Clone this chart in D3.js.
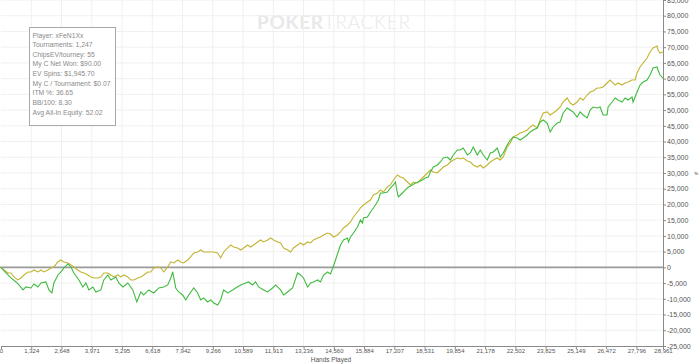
<!DOCTYPE html>
<html>
<head>
<meta charset="utf-8">
<script src="https://cdn.jsdelivr.net/npm/d3@7"></script>
<style>
    body { margin: 0; background: #fff; }
    svg { display: block; }
</style>
</head>
<body>
<div id="content"></div>
<script>
// [hands, chips]
var netWon = [[0,0],[218,-1780],[437,-3370],[655,-4640],[786,-5590],[961,-7180],[1092,-6230],[1310,-6550],[1441,-5270],[1616,-6230],[1747,-4960],[1966,-4640],[2097,-7180],[2228,-8130],[2315,-4960],[2490,-2420],[2621,-1460],[2752,-190],[2927,1080],[3058,130],[3189,-1780],[3407,-4000],[3582,-6230],[3713,-4960],[3844,-7180],[4019,-6230],[4150,-7820],[4368,-7180],[4499,-4000],[4674,-2420],[4805,-4000],[5023,-3050],[5154,-4960],[5329,-6230],[5548,-4960],[5766,-7180],[5941,-10990],[6115,-7820],[6246,-8770],[6465,-7180],[6683,-8130],[6902,-6550],[7120,-6230],[7295,-5590],[7426,-3370],[7513,-1460],[7644,-6550],[7775,-7820],[7950,-8770],[8081,-10360],[8212,-8770],[8430,-6550],[8605,-8130],[8736,-10360],[8867,-9720],[9042,-10990],[9173,-10360],[9304,-11310],[9479,-11950],[9610,-10360],[9741,-7180],[9916,-8130],[10134,-7180],[10265,-6550],[10484,-5590],[10702,-4960],[10833,-4640],[11008,-5590],[11139,-4640],[11270,-6230],[11488,-7180],[11663,-7820],[11881,-6550],[12012,-5590],[12230,-7180],[12362,-8770],[12536,-7820],[12755,-6550],[12973,-1780],[13104,-2420],[13235,-3370],[13410,-6230],[13541,-4960],[13672,-4640],[13847,-4000],[13978,-4640],[14109,-2420],[14284,-1460],[14415,-2100],[14546,440],[14721,4260],[14852,7120],[14983,8710],[15158,9340],[15202,8070],[15289,9660],[15420,10930],[15594,12840],[15725,15060],[15813,14110],[15856,15700],[16031,16020],[16162,17610],[16293,18880],[16380,19830],[16511,21420],[16599,23640],[16730,23640],[16905,23960],[17036,25230],[17167,26190],[17254,27140],[17342,23640],[17385,22370],[17560,23640],[17691,24600],[17822,25550],[17997,26190],[18128,26820],[18259,27140],[18434,27780],[18565,28410],[18696,28730],[18783,30320],[18914,31910],[19089,32540],[19220,33500],[19351,34770],[19526,35090],[19657,34130],[19788,35720],[19963,37310],[20094,37310],[20225,37950],[20400,35720],[20531,36360],[20662,38260],[20837,35720],[20968,37310],[21099,35720],[21274,34130],[21405,36360],[21536,36680],[21710,37950],[21841,35090],[21972,36360],[22147,38900],[22278,40490],[22409,41440],[22584,41130],[22715,40490],[22846,41130],[23021,42080],[23152,43040],[23283,43670],[23457,44310],[23588,46220],[23719,46850],[23894,45900],[24025,43040],[24156,44630],[24331,45900],[24462,46220],[24593,49080],[24768,50670],[24899,50030],[25030,49400],[25205,47810],[25336,49400],[25467,48440],[25642,47490],[25773,50030],[25904,50980],[26079,50670],[26210,50980],[26341,48440],[26515,48440],[26559,50980],[26734,52570],[26865,53840],[26996,53200],[27171,52570],[27302,53840],[27433,53200],[27607,54150],[27651,52570],[27826,55750],[27957,57970],[28088,58920],[28263,59560],[28394,61150],[28525,63370],[28700,63690],[28743,62740],[28830,61150],[28961,60190]];

var evWon = [[0,0],[131,-830],[306,-1780],[437,-1780],[568,-3050],[743,-4000],[874,-3370],[1005,-2420],[1179,-1460],[1310,-1460],[1441,-830],[1616,-1460],[1747,-830],[1878,-1460],[2053,-830],[2184,-190],[2315,130],[2490,1720],[2621,2350],[2752,1720],[2927,1400],[3058,760],[3189,130],[3363,-830],[3494,-1460],[3626,-1780],[3800,-2420],[3931,-3050],[4062,-3370],[4237,-3370],[4368,-3050],[4499,-1780],[4674,-1780],[4805,-2420],[4936,-3050],[5111,-2420],[5242,-3050],[5373,-2420],[5548,-3050],[5679,-4000],[5810,-4000],[5984,-3370],[6115,-3050],[6246,-2420],[6421,-1460],[6552,-1460],[6683,-190],[6858,130],[6989,-190],[7120,-1460],[7295,130],[7426,1720],[7557,1400],[7732,2350],[7863,1720],[7994,1400],[8168,2350],[8299,3310],[8430,4580],[8605,4890],[8736,5530],[8867,4890],[9042,4890],[9173,4890],[9304,4890],[9479,4580],[9610,2990],[9741,4890],[9916,6170],[10047,7120],[10178,6480],[10353,6170],[10484,5530],[10615,6170],[10790,7120],[10921,6480],[11052,7120],[11226,8070],[11357,8710],[11488,8070],[11663,8710],[11794,9340],[11925,8710],[12100,8070],[12231,7750],[12362,6170],[12536,5530],[12668,4890],[12799,6170],[12973,7120],[13104,7750],[13235,7120],[13410,8070],[13541,7750],[13672,8710],[13847,9340],[13978,9660],[14109,10300],[14284,10930],[14415,10610],[14546,9660],[14721,10300],[14852,11250],[14983,12520],[15158,13470],[15289,14430],[15420,16020],[15594,17610],[15725,18880],[15856,19830],[16031,20780],[16162,21420],[16293,23010],[16468,23640],[16599,24600],[16730,23960],[16905,25550],[17036,26190],[17167,27780],[17342,29360],[17473,28730],[17604,28410],[17779,27140],[17910,26190],[18041,27140],[18216,26820],[18347,27780],[18478,28730],[18652,30000],[18783,30950],[18914,30320],[19089,30000],[19220,30950],[19351,31910],[19526,32540],[19657,33500],[19788,34130],[19963,34770],[20094,34450],[20225,34770],[20400,33820],[20531,33500],[20662,32540],[20837,31910],[20968,32540],[21099,31590],[21274,32540],[21405,33500],[21536,34130],[21710,34770],[21841,34130],[21972,35090],[22147,38260],[22278,39530],[22409,41440],[22584,42080],[22715,42710],[22846,43040],[23021,43670],[23152,44630],[23283,45260],[23457,44310],[23588,46850],[23719,49080],[23894,49400],[24025,48440],[24156,49080],[24331,50030],[24462,50980],[24593,52570],[24768,53840],[24899,52250],[25030,51610],[25205,52570],[25336,53840],[25467,53200],[25642,54790],[25773,55750],[25904,56070],[26079,57020],[26210,57020],[26341,57340],[26515,58610],[26646,59560],[26734,58920],[26865,57970],[26996,58610],[27171,57970],[27302,58610],[27433,58920],[27607,59560],[27738,59560],[27826,61790],[27957,63690],[28088,64960],[28263,66550],[28394,68460],[28525,69730],[28700,70360],[28743,69100],[28830,68140],[28961,68460]];

var handTicks = [0, 1324, 2648, 3971, 5295, 6618, 7942, 9266, 10589, 11913, 13236, 14560,
    15884, 17207, 18531, 19854, 21178, 22502, 23825, 25149, 26472, 27796, 28961];
var chipTicks = d3.range(-25000, 85001, 5000);

var stats = [
    "Player: xFeN1Xx",
    "Tournaments: 1,247",
    "ChipsEV/tourney: 55",
    "My C Net Won: $90.00",
    "EV Spins: $1,945.70",
    "My C / Tournament: $0.07",
    "ITM %: 36.65",
    "BB/100: 8.30",
    "Avg All-In Equity: 52.02"
];

var totalW = 700, totalH = 364;
var plotLeft = 1, plotRight = 663, plotTop = 0, plotBottom = 346;

var svg = d3.select('#content').append('svg')
    .attr('width', totalW)
    .attr('height', totalH);

var x = d3.scaleLinear().domain([0, 28961]).range([plotLeft, plotRight]);
var y = d3.scaleLinear().domain([-25000, 85000]).range([plotBottom, plotTop]);

var fmt = d3.format(',');
var numFmt = function (d) { return fmt(d).replace('\u2212', '-'); };

// watermark
var wm = svg.append('text')
    .attr('x', 257)
    .attr('y', 29)
    .attr('textLength', 153)
    .style('font-family', 'Lato, "Open Sans", sans-serif')
    .style('font-size', '19px')
    .style('fill', '#e8e8e8');
wm.append('tspan').style('font-weight', 'bold').text('POKER');
wm.append('tspan').style('font-weight', '300').text('TRACKER');

// grid
var grid = svg.append('g').attr('class', 'grid');
grid.selectAll('line.v')
    .data(handTicks.slice(1, -1))
    .enter().append('line')
    .attr('x1', function (d) { return x(d); })
    .attr('x2', function (d) { return x(d); })
    .attr('y1', plotTop)
    .attr('y2', plotBottom)
    .attr('stroke', '#f0f0f0')
    .attr('stroke-width', 1);
grid.selectAll('line.h')
    .data(chipTicks.filter(function (d) { return d !== 0 && d !== -25000; }))
    .enter().append('line')
    .attr('x1', plotLeft)
    .attr('x2', plotRight)
    .attr('y1', function (d) { return y(d); })
    .attr('y2', function (d) { return y(d); })
    .attr('stroke', '#f0f0f0')
    .attr('stroke-width', 1);

// zero line
svg.append('line')
    .attr('x1', 0)
    .attr('x2', plotRight)
    .attr('y1', y(0))
    .attr('y2', y(0))
    .attr('stroke', '#9a9a9a')
    .attr('stroke-width', 1.6);

// lines
var line = d3.line()
    .x(function (d) { return x(d[0]); })
    .y(function (d) { return y(d[1]); });

svg.append('path')
    .datum(evWon)
    .attr('d', line)
    .attr('fill', 'none')
    .attr('stroke', '#c2b431')
    .attr('stroke-width', 1.1);

svg.append('path')
    .datum(netWon)
    .attr('d', line)
    .attr('fill', 'none')
    .attr('stroke', '#3fbb3f')
    .attr('stroke-width', 1.1);

// right axis
var yAxis = d3.axisRight(y).tickValues(chipTicks).tickSize(3).tickPadding(1).tickFormat(numFmt);
var ya = svg.append('g')
    .attr('transform', 'translate(' + plotRight + ',0)')
    .call(yAxis);
ya.select('.domain').attr('stroke', '#8a8a8a');
ya.selectAll('.tick line').attr('stroke', '#8a8a8a');
ya.selectAll('text')
    .style('font-family', '"Liberation Sans", Arial, sans-serif')
    .style('font-size', '7px')
    .style('fill', '#555');

// bottom axis
var xAxis = d3.axisBottom(x).tickValues(handTicks).tickSize(3).tickPadding(0).tickFormat(numFmt);
var xa = svg.append('g')
    .attr('transform', 'translate(0,' + plotBottom + ')')
    .call(xAxis);
xa.select('.domain').attr('stroke', '#8a8a8a');
xa.selectAll('.tick line').attr('stroke', '#8a8a8a');
xa.selectAll('text')
    .style('font-family', '"Liberation Sans", Arial, sans-serif')
    .style('font-size', '6px')
    .style('fill', '#555');

svg.append('text')
    .attr('x', 331)
    .attr('y', 362)
    .attr('text-anchor', 'middle')
    .style('font-family', '"Liberation Sans", Arial, sans-serif')
    .style('font-size', '6.5px')
    .style('fill', '#555')
    .text('Hands Played');

// little marker by the axis
svg.append('text')
    .attr('x', 694)
    .attr('y', 175)
    .style('font-family', '"DejaVu Sans", sans-serif')
    .style('font-size', '4.5px')
    .style('fill', '#333')
    .text('%');

// stats box
var box = svg.append('g').attr('transform', 'translate(29.5,27.5)');
box.append('rect')
    .attr('width', 86)
    .attr('height', 98)
    .attr('fill', '#fff')
    .attr('stroke', '#a8a8a8');
box.selectAll('text')
    .data(stats)
    .enter().append('text')
    .attr('x', 3)
    .attr('y', function (d, i) { return 10 + i * 9.65; })
    .style('font-family', '"Liberation Sans", Arial, sans-serif')
    .style('font-size', '6.8px')
    .style('fill', '#8a8a8a')
    .text(function (d) { return d; });
</script>
</body>
</html>
